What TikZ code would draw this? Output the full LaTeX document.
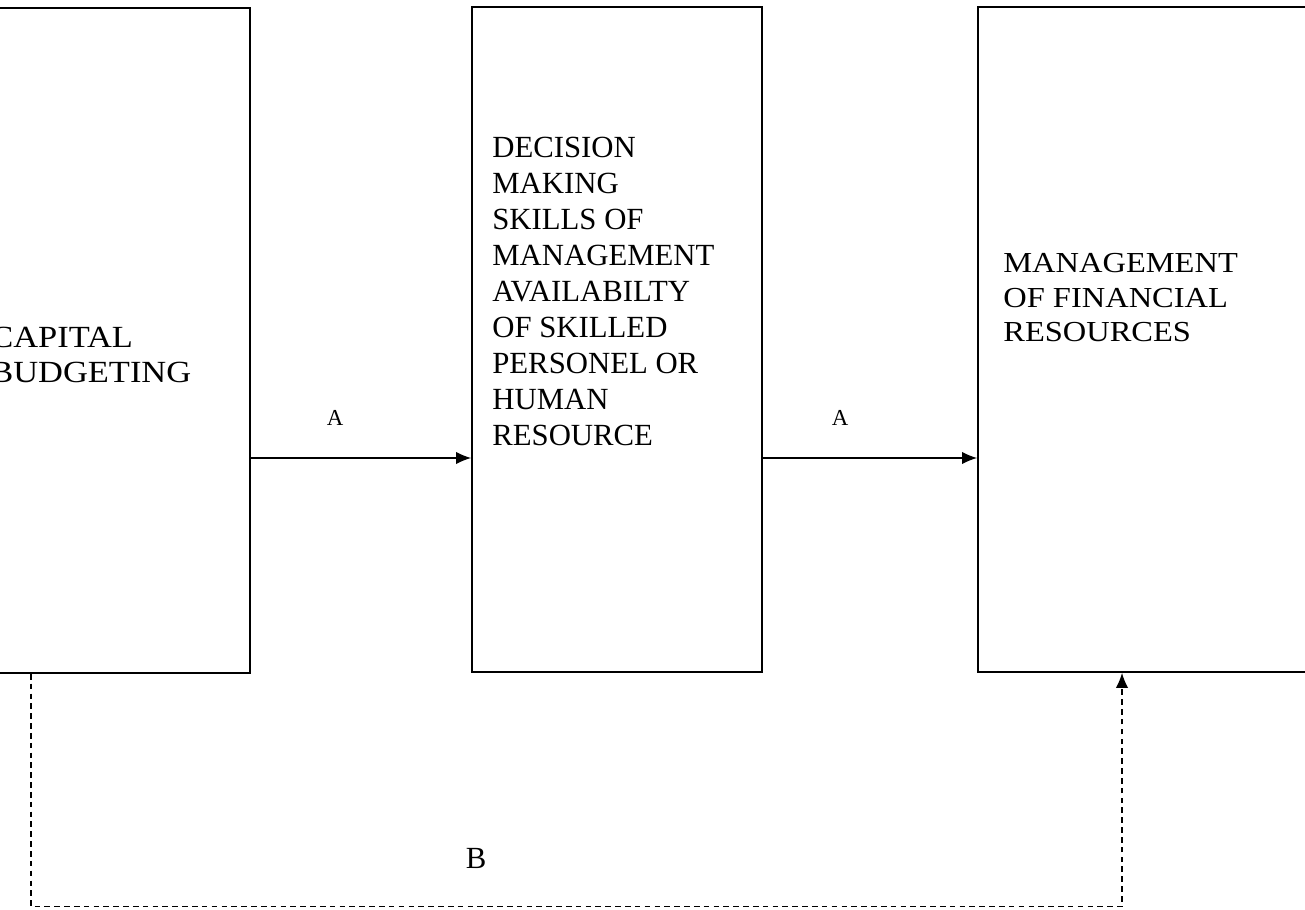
\documentclass[tikz,border=0pt]{standalone}
\usepackage{fontspec}
\setmainfont{Liberation Serif}
\newfontfamily\widefont[FakeStretch=1.12]{Liberation Serif}
\usepackage{tikz}
\usetikzlibrary{arrows.meta,calc}
\tikzset{
	box line/.style={line width=1pt}
}
\tikzstyle{factor}=[draw, box line, rectangle, minimum height=13.3cm, inner sep=0pt]
\tikzstyle{boxtext}=[anchor=base west, align=left, inner sep=0pt, font=\fontsize{17.5}{20.5}\selectfont]
\tikzstyle{link}=[line width=.8pt, -{Latex[length=8.5pt,width=7pt]}]
\tikzstyle{feedback}=[line width=.8pt, dash pattern=on 3.2pt off 2.4pt, -{Latex[length=8.5pt,width=7pt]}]

\begin{document}
\begin{tikzpicture}
	\useasboundingbox (0,0) rectangle (26.1,18.18);
	\clip (0,0) rectangle (26.1,18.18);
	\node[factor, minimum width=5.6cm] (capbox) at (2.2,11.37) {};
	\node[factor, minimum width=5.8cm] (decbox) at (12.34,11.39) {};
	\node[factor, minimum width=7.24cm] (finbox) at (23.18,11.39) {};
	% base = last line of each text
	\node[boxtext, font=\widefont\fontsize{17.5}{20.3}\selectfont] (captext) at (-0.2,10.52) {CAPITAL\\BUDGETING};
	\node[boxtext] (dectext) at (9.84,9.26) {DECISION\\MAKING\\SKILLS OF\\MANAGEMENT\\AVAILABILTY\\OF SKILLED\\PERSONEL OR\\HUMAN\\RESOURCE};
	\node[boxtext, font=\widefont\fontsize{16.5}{19.8}\selectfont] (fintext) at (20.06,11.34) {MANAGEMENT\\OF FINANCIAL\\RESOURCES};
	\coordinate (lvl) at (0,9.02);
	\draw[link] (capbox.east |- lvl) -- (decbox.west |- lvl);
	\draw[link] (decbox.east |- lvl) -- (finbox.west |- lvl);
	\node[font=\fontsize{13}{15}\selectfont] (alabel1) at (6.7,9.82) {A};
	\node[font=\fontsize{13}{15}\selectfont] (alabel2) at (16.8,9.82) {A};
	% dashed return path along the bottom
	\coordinate (bl) at (0.62,0.05);
	\coordinate (br) at (22.44,0.05);
	\draw[feedback] (capbox.south -| bl) -- (bl) -- (br) -- (finbox.south -| br);
	\node[font=\fontsize{17.5}{20.5}\selectfont] (blabel) at (9.52,1.02) {B};
\end{tikzpicture}
\end{document}
